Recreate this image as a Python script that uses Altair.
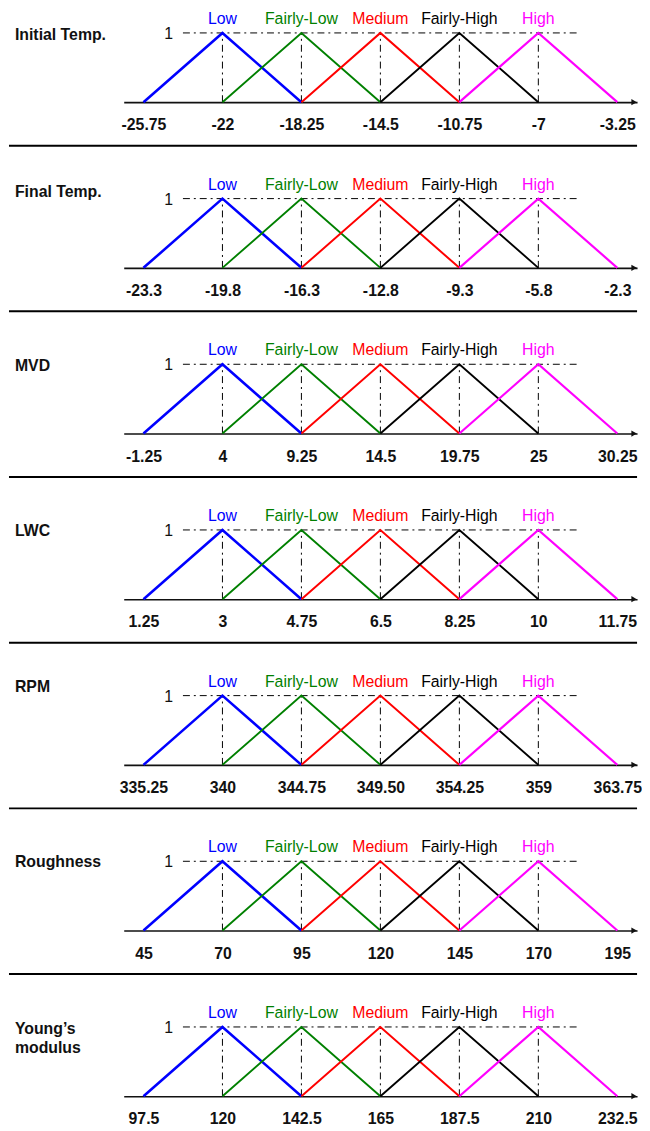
import altair as alt
import pandas as pd

# ---------------- data ----------------
titles = ["Initial Temp.", "Final Temp.", "MVD", "LWC", "RPM", "Roughness", "Young\u2019s\nmodulus"]
categories = ["Low", "Fairly-Low", "Medium", "Fairly-High", "High"]

initial_temp = [-25.75, -22, -18.25, -14.5, -10.75, -7, -3.25]
final_temp = [-23.3, -19.8, -16.3, -12.8, -9.3, -5.8, -2.3]
mvd = [-1.25, 4, 9.25, 14.5, 19.75, 25, 30.25]
lwc = [1.25, 3, 4.75, 6.5, 8.25, 10, 11.75]
rpm = [335.25, 340, 344.75, 349.5, 354.25, 359, 363.75]
roughness = [45, 70, 95, 120, 145, 170, 195]
youngs = [97.5, 120, 142.5, 165, 187.5, 210, 232.5]

initial_temp_labels = ["-25.75", "-22", "-18.25", "-14.5", "-10.75", "-7", "-3.25"]
final_temp_labels = ["-23.3", "-19.8", "-16.3", "-12.8", "-9.3", "-5.8", "-2.3"]
mvd_labels = ["-1.25", "4", "9.25", "14.5", "19.75", "25", "30.25"]
lwc_labels = ["1.25", "3", "4.75", "6.5", "8.25", "10", "11.75"]
rpm_labels = ["335.25", "340", "344.75", "349.50", "354.25", "359", "363.75"]
roughness_labels = ["45", "70", "95", "120", "145", "170", "195"]
youngs_labels = ["97.5", "120", "142.5", "165", "187.5", "210", "232.5"]

peak_value = [1]

# ---------------- style ----------------
colors = ["#0000FF", "#008000", "#FF0000", "#000000", "#FF00FF"]
widths = [2.6, 1.9, 2.0, 1.9, 2.2]
title_dy = [2, -7, 2, 1, -9, 1, 2]
FONT = "Liberation Sans"
W, H = 519, 70
DASH = [7, 4, 2, 4]
SEP_LEFT, SEP_Y = -116, H + 44

all_verts = [initial_temp, final_temp, mvd, lwc, rpm, roughness, youngs]
all_labels = [initial_temp_labels, final_temp_labels, mvd_labels, lwc_labels,
              rpm_labels, roughness_labels, youngs_labels]


def panel(idx):
    verts = all_verts[idx]
    labels = all_labels[idx]
    step = verts[1] - verts[0]
    lo, hi = verts[0] - 0.25 * step, verts[-1] + 0.25 * step

    expr = "datum.label"
    for v, s in reversed(list(zip(verts, labels))):
        expr = f"datum.value == {v} ? '{s}' : ({expr})"

    axis = alt.Axis(values=verts, labelExpr=expr, title=None, grid=False,
                    ticks=False, tickSize=0, domain=True, domainColor="#111111",
                    domainWidth=1.6, labelFont=FONT, labelFontSize=16,
                    labelFontWeight="bold", labelColor="#111111", labelPadding=15,
                    labelFlush=False, labelOverlap=False)
    xs = alt.Scale(domain=[lo, hi], nice=False, zero=False)
    ys = alt.Scale(domain=[0, 1], nice=False, zero=False)

    def X(field="x"):
        return alt.X(f"{field}:Q", scale=xs, axis=axis)

    def Y(field="y"):
        return alt.Y(f"{field}:Q", scale=ys, axis=None)

    layers = []

    # vertical dash-dot lines at the peaks
    vdf = pd.DataFrame({"x": verts[1:6], "y": [0] * 5, "y2": peak_value * 5})
    layers.append(alt.Chart(vdf).mark_rule(color="#000000", strokeWidth=1,
                                           strokeDash=DASH)
                  .encode(x=X(), y=Y(), y2="y2:Q"))

    # horizontal dash-dot line at membership 1
    hdf = pd.DataFrame({"x": [(verts[0] + verts[1]) / 2], "x2": [(verts[5] + verts[6]) / 2],
                        "y": peak_value})
    layers.append(alt.Chart(hdf).mark_rule(color="#000000", strokeWidth=1,
                                           strokeDash=DASH)
                  .encode(x=X(), x2="x2:Q", y=Y()))

    # "1" label
    layers.append(alt.Chart(hdf).mark_text(font=FONT, fontSize=16, align="right",
                                           baseline="middle", dx=-10, dy=1,
                                           color="#111111")
                  .encode(x=X(), y=Y(), text=alt.value("1")))

    # triangles
    for i, cat in enumerate(categories):
        tdf = pd.DataFrame({"x": [verts[i], verts[i + 1], verts[i + 2]],
                            "y": [0, 1, 0], "o": [0, 1, 2]})
        layers.append(alt.Chart(tdf).mark_line(color=colors[i], strokeWidth=widths[i],
                                               strokeJoin="miter")
                      .encode(x=X(), y=Y(), order="o:Q"))
        ldf = pd.DataFrame({"x": [verts[i + 1]], "y": peak_value, "t": [cat]})
        layers.append(alt.Chart(ldf).mark_text(font=FONT, fontSize=16, color=colors[i],
                                               baseline="middle", dy=-14)
                      .encode(x=X(), y=Y(), text="t:N"))

    # axis arrow head
    adf = pd.DataFrame({"x": [hi], "y": [0]})
    layers.append(alt.Chart(adf).mark_point(shape="triangle-right", filled=True,
                                            size=40, color="#111111", opacity=1,
                                            xOffset=-3)
                  .encode(x=X(), y=Y()))

    # panel title
    one = pd.DataFrame({"a": [0]})
    layers.append(alt.Chart(one).mark_text(font=FONT, fontSize=16, fontWeight="bold",
                                           align="left", baseline="middle",
                                           lineBreak="\n", lineHeight=19,
                                           color="#111111")
                  .encode(x=alt.value(-110), y=alt.value(title_dy[idx]),
                          text=alt.value(titles[idx])))

    # separator line
    last = idx == len(titles) - 1
    layers.append(alt.Chart(one).mark_rule(color="#000000", strokeWidth=2,
                                           opacity=0 if last else 1)
                  .encode(x=alt.value(SEP_LEFT), x2=alt.value(W),
                          y=alt.value(H if last else SEP_Y)))

    return alt.layer(*layers).properties(width=W, height=H)


chart = alt.vconcat(*[panel(i) for i in range(len(titles))], spacing=30.5).properties(
    padding={"left": 0, "top": -3, "right": 0, "bottom": 0}
).configure_view(stroke=None)

chart.save("out.html", embed_options={"renderer": "svg", "actions": False})
